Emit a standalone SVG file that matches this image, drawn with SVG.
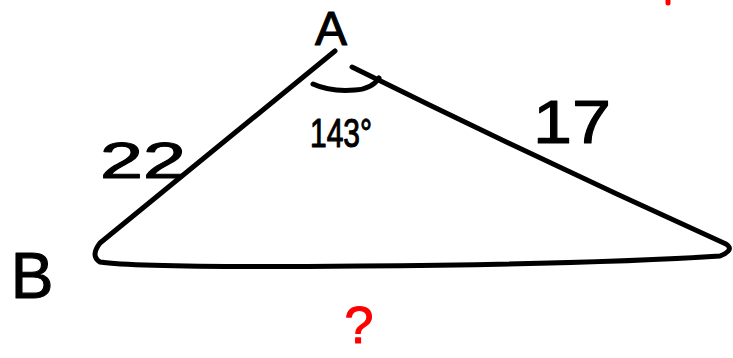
<svg xmlns="http://www.w3.org/2000/svg" width="733" height="358" viewBox="0 0 733 358">
<style>
.ln{fill:none;stroke:#000;stroke-width:5;stroke-linecap:round;stroke-linejoin:round}
.lbl{font-family:"Liberation Sans",Arial,sans-serif;fill:#000;stroke:#000;stroke-width:1.1;stroke-linejoin:round}
.red{fill:#f00;stroke:#f00}
</style>
<rect width="733" height="358" fill="#fff"/>
<g id="connectors">
<path class="ln" d="M335,51 L100,243 Q90,256 100,262 Q140,268 360,266 Q600,264 720,256 Q735,250 726,244 Q540,160 352,67"/>
<path class="ln" d="M313,84 Q330,92 355,90 Q372,89 379,78"/>
</g>
<g id="node-A"><text class="lbl" x="331" y="45" font-size="48" text-anchor="middle">A</text></g>
<g id="node-B"><text class="lbl" x="32" y="298" font-size="64" text-anchor="middle">B</text></g>
<g id="label-angle"><text class="lbl" x="310" y="147" font-size="40" textLength="62" lengthAdjust="spacingAndGlyphs">143°</text></g>
<g id="label-22"><text class="lbl" x="100" y="178" font-size="50" textLength="86" lengthAdjust="spacingAndGlyphs">22</text></g>
<g id="label-17"><text class="lbl" x="533" y="143" font-size="62" textLength="78" lengthAdjust="spacingAndGlyphs">17</text></g>
<g id="label-q"><text class="lbl red" x="359" y="343" font-size="52" text-anchor="middle">?</text></g>
<line x1="668" y1="0" x2="668" y2="3" stroke="#f00" stroke-width="5" stroke-linecap="round"/>
</svg>
